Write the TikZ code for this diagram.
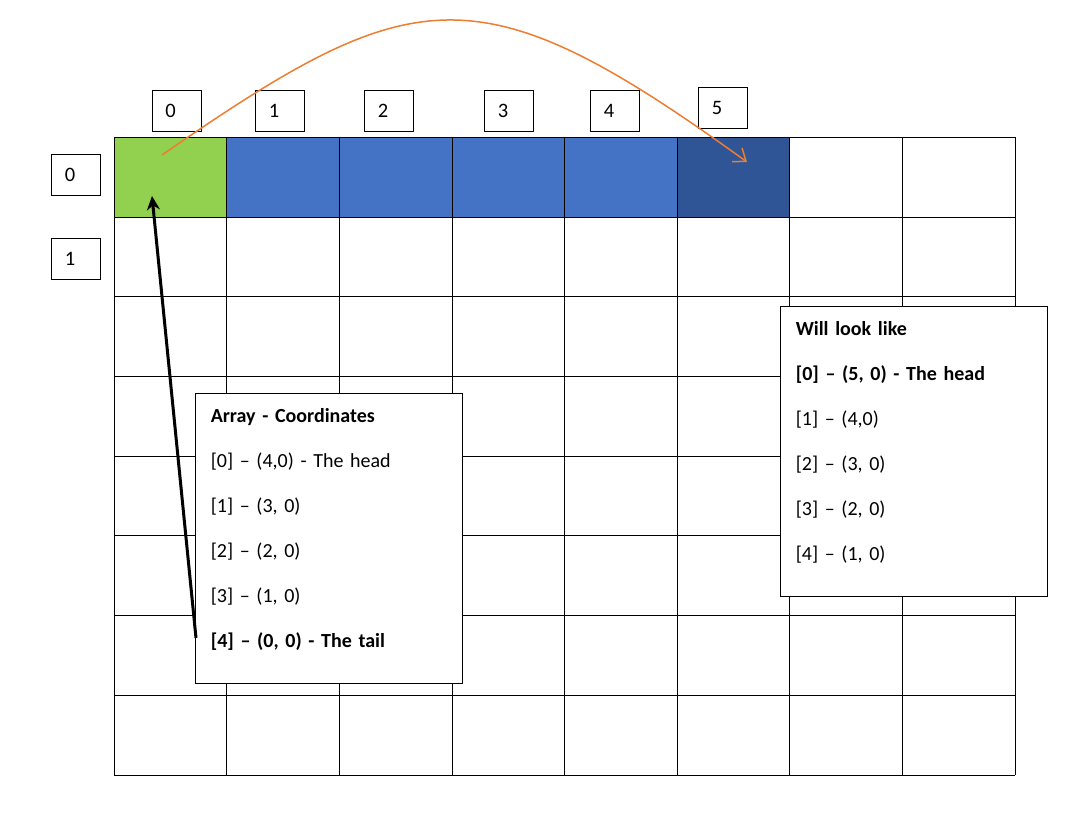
\documentclass[tikz,border=0pt]{standalone}
\usepackage{fontspec}
\setmainfont{Carlito}
\usetikzlibrary{arrows.meta}
\definecolor{cgreen}{HTML}{92D050}
\definecolor{cblue}{HTML}{4472C4}
\definecolor{cdark}{HTML}{2F5597}
\definecolor{corange}{HTML}{ED7D31}
\tikzset{
  gridline/.style={draw=black, line width=0.9},
  idxbox/.style={draw=black, line width=0.9, fill=white, minimum width=49, minimum height=41,
    inner xsep=13, inner ysep=0, text width=23, align=left, anchor=north west,
    font=\fontsize{20.5}{24}\selectfont},
  infobox/.style={draw=black, line width=0.9, fill=white, anchor=north west,
    inner xsep=15, inner ysep=8.4, text width=237, align=left,
    font=\fontsize{20}{45}\selectfont},
  tailarrow/.style={line width=3, -{Stealth[length=14, width=13]}},
  movearrow/.style={draw=corange, line width=1.5, -{Straight Barb[length=11, width=17]}},
}
\begin{document}
\begin{tikzpicture}[x=1pt,y=-1pt]
\useasboundingbox (0,0) rectangle (1074,824);
% coloured cells
\fill[cgreen] (114.3,137.3) rectangle (226.9,217);
\fill[cblue] (226.9,137.3) rectangle (677.3,217);
\fill[cdark] (677.3,137.3) rectangle (789.9,217);
% grid
\foreach \i in {0,...,8} {
  \draw[gridline] ({114.3+112.6*\i},137.3) -- ({114.3+112.6*\i},775);
  \draw[gridline] (114.3,{137.3+79.71*\i}) -- (1015.1,{137.3+79.71*\i});
}
% index boxes
\node[idxbox] (c0) at (152,90.3) {0};
\node[idxbox] (c1) at (255.3,90.3) {1};
\node[idxbox] (c2) at (364.3,90.3) {2};
\node[idxbox] (c3) at (484.3,90.3) {3};
\node[idxbox] (c4) at (590.3,90.3) {4};
\node[idxbox] (c5) at (698.3,87.3) {5};
\node[idxbox] (r0) at (51.3,154.3) {0};
\node[idxbox] (r1) at (51.3,238.3) {1};
% info boxes
\node[infobox] (arr) at (195.3,393.3) {\rule{0pt}{20pt}\textbf{Array - Coordinates}\\
{[0]} – (4,0) - The head\\
{[1]} – (3, 0)\\
{[2]} – (2, 0)\\
{[3]} – (1, 0)\\
\textbf{[4] – (0, 0) - The tail}\rule[-28pt]{0pt}{28pt}};
\node[infobox] (will) at (780.3,306.3) {\rule{0pt}{20pt}\textbf{Will look like}\\
\textbf{[0] – (5, 0) - The head}\\
{[1]} – (4,0)\\
{[2]} – (3, 0)\\
{[3]} – (2, 0)\\
{[4]} – (1, 0)\rule[-28pt]{0pt}{28pt}};
% arrows
\coordinate (tailstart) at (196,638);
\coordinate (tailend) at (152,196);
\draw[tailarrow] (tailstart) -- (tailend);
\coordinate (oldhead) at (162,155);
\coordinate (newhead) at (747,162);
\draw[movearrow] (oldhead) .. controls (415,-20) and (478,-32) .. (newhead);
\end{tikzpicture}
\end{document}
